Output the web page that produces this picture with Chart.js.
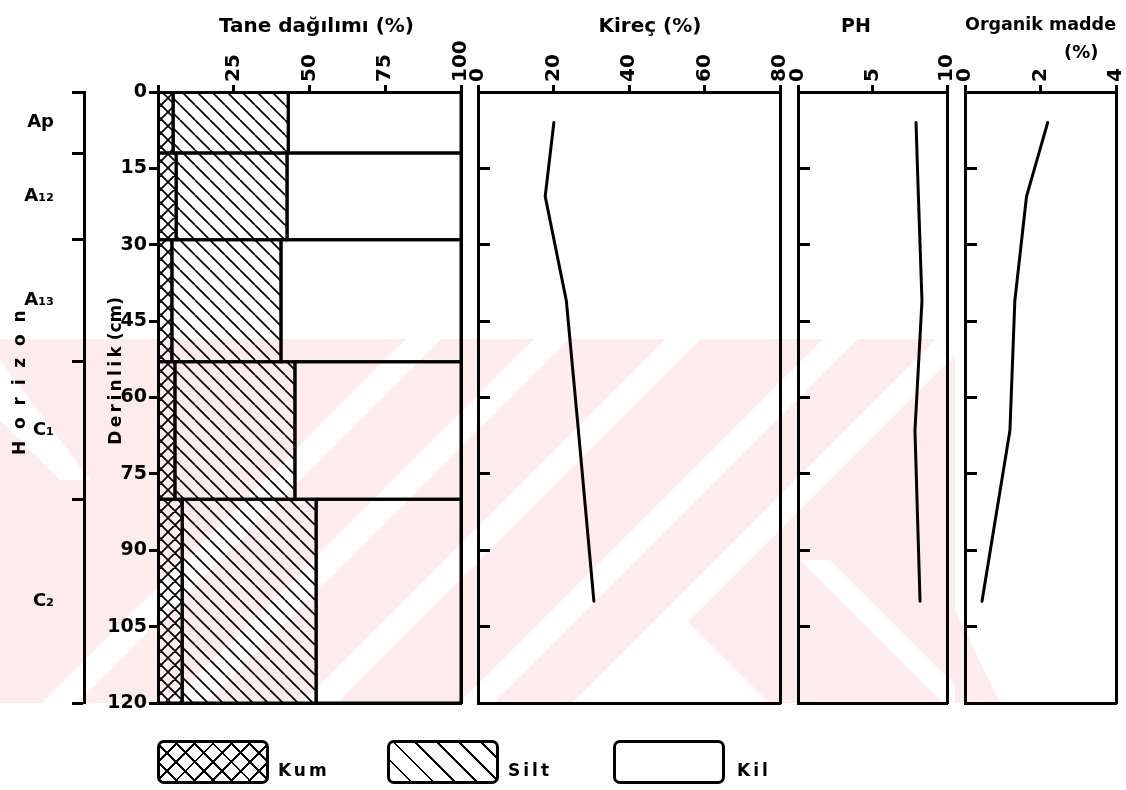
<!DOCTYPE html>
<html>
<head>
<meta charset="utf-8">
<script src="https://cdn.jsdelivr.net/npm/chart.js@4.4.1/dist/chart.umd.min.js"></script>
<style>
html,body{margin:0;padding:0;background:#fff;width:1126px;height:790px;overflow:hidden;position:relative;}
canvas,svg{position:absolute;left:0;top:0;}
.box{position:absolute;top:740px;width:106px;height:38px;border:3px solid #000;border-radius:7px;}
.lab{position:absolute;top:760px;font:bold 17px 'DejaVu Sans',sans-serif;letter-spacing:3px;color:#000;}
</style>
</head>
<body>
<svg width="1126" height="790">
  <defs><clipPath id="band"><polygon points="0,339 955,339 955,610 1000,703 0,703"/></clipPath></defs>
  <g clip-path="url(#band)">
    <rect x="0" y="339" width="1000" height="364" fill="#fdebee"/>
    <g fill="#fff">
      <polygon points="406,339 441,339 77,703 42,703"/>
      <polygon points="534,339 569,339 205,703 170,703"/>
      <polygon points="666,339 701,339 337,703 302,703"/>
      <polygon points="823,339 858,339 494,703 459,703"/>
      <polygon points="936,339 971,339 607,703 572,703"/>
      <polygon points="673,607 769,703 577,703"/>
      <polygon points="0,360 0,420 60,480 90,480"/>
      <polygon points="800,560 830,560 955,685 955,715"/>
    </g>
  </g>
</svg>
<canvas id="c1" width="1126" height="790"></canvas>
<canvas id="c2" width="1126" height="790"></canvas>
<canvas id="c3" width="1126" height="790"></canvas>
<canvas id="c4" width="1126" height="790"></canvas>
<div class="box" style="left:157px;background:repeating-linear-gradient(45deg,transparent 0 11px,#000 11px 13px),repeating-linear-gradient(-45deg,transparent 0 11px,#000 11px 13px);"></div>
<div class="lab" style="left:278px;">Kum</div>
<div class="box" style="left:387px;background:repeating-linear-gradient(45deg,transparent 0 13.5px,#000 13.5px 15.5px);"></div>
<div class="lab" style="left:508px;">Silt</div>
<div class="box" style="left:613px;"></div>
<div class="lab" style="left:737px;">Kil</div>
<script>
// ---------- data ----------
const horizonNames = ['Ap', 'A\u2081\u2082', 'A\u2081\u2083', 'C\u2081', 'C\u2082'];
const horizonTop = [0, 12, 29, 53, 80];
const horizonBottom = [12, 29, 53, 80, 120];
const kum = [5, 6, 4.6, 5.6, 8];
const silt = [38, 36.6, 36, 39.6, 44.2];
const kil = [57, 57.4, 59.4, 54.8, 47.8];
const sampleDepth = [6, 20.5, 41, 66.5, 100];
const kirec = [20.1, 17.8, 23.4, 26.6, 30.7];
const ph = [7.92, 8.08, 8.32, 7.85, 8.19];
const organik = [2.19, 1.63, 1.32, 1.19, 0.45];
const depthTicks = [0, 15, 30, 45, 60, 75, 90, 105, 120];
const taneTicks = [0, 25, 50, 75, 100];
const kirecTicks = [0, 20, 40, 60, 80];
const phTicks = [0, 5, 10];
const organikTicks = [0, 2, 4];

// ---------- defaults ----------
Chart.defaults.font.family = "'DejaVu Sans', sans-serif";
Chart.defaults.font.weight = 'bold';
Chart.defaults.color = '#000';
Chart.defaults.animation = false;
Chart.defaults.responsive = false;
Chart.defaults.devicePixelRatio = 1;
Chart.defaults.events = [];
Chart.defaults.plugins.legend.display = false;
Chart.defaults.plugins.tooltip.enabled = false;

const BLACK = '#000';
const TOP_H = 92;
const BOTTOM_PAD = 87;
const TICK_FONT = 20;

function hatch(size, cross) {
  const c = document.createElement('canvas');
  c.width = c.height = size;
  const g = c.getContext('2d');
  g.strokeStyle = BLACK;
  g.lineWidth = 1.7;
  g.beginPath();
  for (const k of [-1, 0, 1]) {
    g.moveTo(k * size, 0); g.lineTo(k * size + size, size);
    if (cross) { g.moveTo(k * size + size, 0); g.lineTo(k * size, size); }
  }
  g.stroke();
  return g.createPattern(c, 'repeat');
}
const kumPattern = hatch(14, true);
const siltPattern = hatch(15, false);

function fixedTicks(arr) { return s => { s.ticks = arr.map(v => ({ value: v })); }; }

function topAxis(min, max, ticksArr, title, hideZero, titleSize, titlePad, lineH) {
  return {
    type: 'linear', position: 'top', min, max, display: true,
    afterBuildTicks: fixedTicks(ticksArr),
    afterFit: s => { s.height = TOP_H; },
    ticks: { minRotation: 90, maxRotation: 90, autoSkip: false, padding: 3,
      labelOffset: TICK_FONT * 1.2,
      font: { size: TICK_FONT }, callback: v => (hideZero && v === 0) ? '' : String(v) },
    grid: { drawOnChartArea: false, drawTicks: true, tickLength: 7, tickWidth: 3, color: BLACK },
    border: { display: true, width: 3, color: BLACK },
    title: { display: true, text: title, font: { size: titleSize, lineHeight: lineH || 1.2 }, padding: { top: titlePad, bottom: 0 } }
  };
}
function frameAxis(pos) {
  const horiz = pos === 'bottom';
  return {
    type: 'linear', position: pos, min: 0, max: 1, display: true,
    afterFit: s => { if (horiz) s.height = 0; else s.width = 0; },
    ticks: { display: false },
    grid: { display: true, drawOnChartArea: false, drawTicks: false },
    border: { display: true, width: 3, color: BLACK }
  };
}
function innerDepthAxis() {
  return {
    type: 'linear', position: 'left', reverse: true, min: 0, max: 120, display: true,
    afterBuildTicks: fixedTicks(depthTicks),
    afterFit: s => { s.width = 0; },
    ticks: { display: false },
    grid: { display: true, drawOnChartArea: true, drawTicks: false, lineWidth: 3, color: BLACK },
    border: { display: true, width: 3, color: BLACK, dash: [10, 3000] }
  };
}

// ---------- panel 1 : Tane dağılımı ----------
function rect(x0, x1, y0, y1) {
  return [{ x: x0, y: y0 }, { x: x1, y: y0 }, { x: x1, y: y1 }, { x: x0, y: y1 }, { x: x0, y: y0 }];
}
const p1Datasets = [];
horizonNames.forEach((h, i) => {
  const a = kum[i], b = kum[i] + silt[i], c = kum[i] + silt[i] + kil[i];
  const t = horizonTop[i], bt = horizonBottom[i];
  [[0, a, kumPattern, 'Kum'], [a, b, siltPattern, 'Silt'], [b, c, 'rgba(0,0,0,0)', 'Kil']].forEach(([x0, x1, bg, name]) => {
    p1Datasets.push({
      label: name + ' ' + h, data: rect(x0, x1, t, bt), showLine: true,
      borderColor: BLACK, borderWidth: 3, pointRadius: 0, tension: 0,
      fill: 'shape', backgroundColor: bg, borderJoinStyle: 'miter'
    });
  });
});
const horizonMid = horizonTop.map((t, i) => (t + horizonBottom[i]) / 2);
const horizonTickVals = horizonTop.concat([120], horizonMid).sort((a, b) => a - b);

new Chart(document.getElementById('c1'), {
  type: 'line',
  data: { datasets: p1Datasets },
  options: {
    layout: { padding: { left: 0, top: 0, right: 1126 - 461, bottom: BOTTOM_PAD } },
    plugins: { filler: { drawTime: 'beforeDatasetsDraw' } },
    scales: {
      x: topAxis(0, 100, taneTicks, '  Tane da\u011f\u0131l\u0131m\u0131 (%)', true, 20, 15),
      y: {
        type: 'linear', position: 'left', reverse: true, min: 0, max: 120, weight: 0,
        afterBuildTicks: fixedTicks(depthTicks),
        afterFit: s => { s.width = 74; },
        ticks: { autoSkip: false, padding: 2, font: { size: 19 } },
        grid: { drawOnChartArea: false, drawTicks: true, tickLength: 9, tickWidth: 3, color: BLACK },
        border: { display: true, width: 3, color: BLACK },
        title: { display: true, text: '         D\u2009e\u2009r\u2009i\u2009n\u2009l\u2009i\u2009k (cm)', font: { size: 17 }, padding: { top: 22, bottom: 0 } }
      },
      yH: {
        type: 'linear', position: 'left', reverse: true, min: 0, max: 120, weight: 1,
        afterBuildTicks: fixedTicks(horizonTickVals),
        afterFit: s => { s.width = 84; },
        ticks: { autoSkip: false, padding: 18, font: { size: 18 },
          callback: v => { const i = horizonMid.indexOf(v); return i >= 0 ? horizonNames[i] : ''; } },
        grid: { drawOnChartArea: false, drawTicks: true, tickLength: 12, tickWidth: 3,
          tickColor: ctx => (ctx.tick && horizonMid.indexOf(ctx.tick.value) >= 0) ? 'rgba(0,0,0,0)' : BLACK },
        border: { display: true, width: 3, color: BLACK },
        title: { display: true, text: '     H  o  r  i  z  o  n', font: { size: 17 }, padding: { top: 10, bottom: 0 } }
      },
      x2: frameAxis('bottom'),
      y2: frameAxis('right')
    }
  }
});

// ---------- panels 2-4 ----------
function profilePanel(id, values, min, max, ticksArr, title, left, right, titleSize, titlePad, lineH) {
  new Chart(document.getElementById(id), {
    type: 'line',
    data: { datasets: [{
      label: id, data: sampleDepth.map((d, i) => ({ x: values[i], y: d })),
      borderColor: BLACK, borderWidth: 3, pointRadius: 0, tension: 0, fill: false,
      borderCapStyle: 'round', borderJoinStyle: 'round'
    }] },
    options: {
      layout: { padding: { left: left, top: 0, right: 1126 - right, bottom: BOTTOM_PAD } },
      scales: {
        x: topAxis(min, max, ticksArr, title, false, titleSize, titlePad, lineH),
        y: innerDepthAxis(),
        x2: frameAxis('bottom'),
        y2: frameAxis('right')
      }
    }
  });
}
profilePanel('c2', kirec, 0, 80, kirecTicks, '      Kire\u00e7 (%)', 478, 780, 20, 15);
profilePanel('c3', ph, 0, 10, phTicks, 'PH     ', 798, 947, 19, 16);
profilePanel('c4', organik, 0, 4, organikTicks, ['Organik madde', '             (%)'], 965, 1116, 18, 11, 1.55);
</script>
</body>
</html>
